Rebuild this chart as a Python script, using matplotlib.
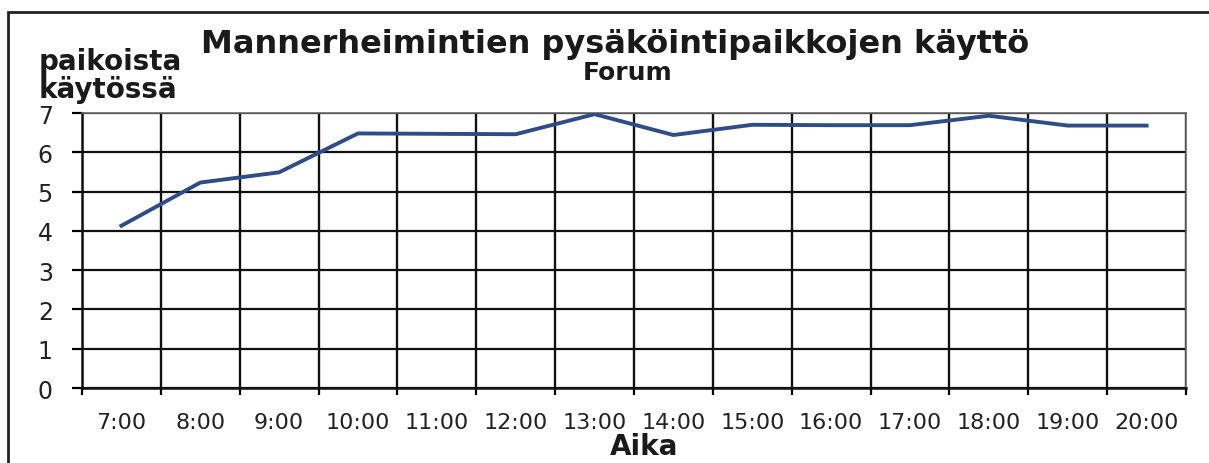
import matplotlib.pyplot as plt
from matplotlib.patches import Rectangle
import numpy as np

plt.rcParams['font.family'] = ['DejaVu Sans']

hours = ['7:00', '8:00', '9:00', '10:00', '11:00', '12:00', '13:00',
         '14:00', '15:00', '16:00', '17:00', '18:00', '19:00', '20:00']
in_use = [4.13, 5.23, 5.49, 6.48, 6.47, 6.46, 6.97,
          6.44, 6.70, 6.69, 6.69, 6.93, 6.68, 6.68]
y_ticks = [0, 1, 2, 3, 4, 5, 6, 7]

fig = plt.figure(figsize=(12.09, 4.64), dpi=100)
ax = fig.add_axes([0.0678, 0.1616, 0.9132, 0.5927])

x = np.arange(len(hours))
ax.plot(x, in_use, color='#2e4d87', linewidth=2.8, zorder=3)

ax.set_xlim(-0.5, len(hours) - 0.5)
ax.set_ylim(0, 7)

# category labels in the middle, grid and tick marks on the boundaries
ax.set_xticks(x)
ax.set_xticklabels(hours, fontsize=16, color='#222222')
ax.tick_params(axis='x', which='major', length=0, pad=17)
ax.set_xticks(np.arange(-0.5, len(hours)), minor=True)
ax.tick_params(axis='x', which='minor', length=5, width=1.6, direction='out')
ax.set_yticks(y_ticks)
ax.tick_params(axis='y', length=7, width=1.6, direction='out', labelsize=17,
               pad=14, labelcolor='#222222')

ax.grid(True, which='minor', axis='x', color='#111111', linewidth=1.7)
ax.grid(True, which='major', axis='y', color='#111111', linewidth=1.6)

for side in ['left', 'bottom']:
    ax.spines[side].set_linewidth(1.8)
    ax.spines[side].set_color('#111111')
for side in ['top', 'right']:
    ax.spines[side].set_linewidth(1.2)
    ax.spines[side].set_color('#666666')

fig.text(0.509, 0.905, 'Mannerheimintien pysäköintipaikkojen käyttö',
         ha='center', va='center', fontsize=23, fontweight='bold', color='#1a1a1a')
fig.text(0.519, 0.843, 'Forum', ha='center', va='center', fontsize=18,
         fontweight='bold', color='#1a1a1a')
fig.text(0.032, 0.836, 'paikoista\nkäytössä', ha='left', va='center',
         fontsize=20, fontweight='bold', linespacing=0.98, color='#1a1a1a')
fig.text(0.533, 0.037, 'Aika', ha='center', va='center', fontsize=20,
         fontweight='bold', color='#1a1a1a')

# scanned page frame
fig.patches.append(Rectangle((0.0066, -0.05), 1.1, 1.022, transform=fig.transFigure,
                             fill=False, edgecolor='#222222', linewidth=2))

fig.savefig('out.png', dpi=100)
